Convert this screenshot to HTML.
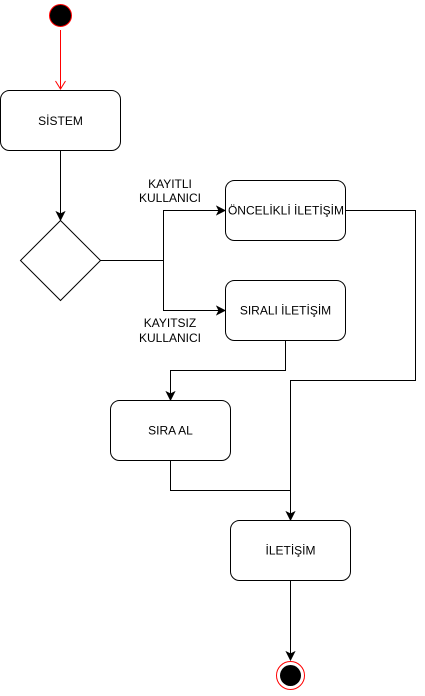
<!DOCTYPE html>
<html><head><meta charset="utf-8"><style>
html,body{margin:0;padding:0;background:#fff;}
svg text{font-family:"Liberation Sans",Arial,sans-serif;font-size:12px;fill:#000;}
</style></head><body>
<svg width="425" height="691" viewBox="0 0 425 691" xmlns="http://www.w3.org/2000/svg">
<defs>
<marker id="a" markerWidth="10" markerHeight="10" refX="8" refY="5" orient="auto" markerUnits="userSpaceOnUse">
<path d="M1,1 L9,5 L1,9 L3,5 Z" fill="#000" stroke="#000"/>
</marker>
<marker id="r" markerWidth="12" markerHeight="12" refX="10" refY="6" orient="auto" markerUnits="userSpaceOnUse">
<path d="M2,1 L10,6 L2,11" fill="none" stroke="#f00"/>
</marker>
</defs>
<circle cx="60.5" cy="15.5" r="11" fill="#000" stroke="#f00"/>
<line x1="60.5" y1="30" x2="60.5" y2="89" stroke="#f00" marker-end="url(#r)"/>
<rect x="0.5" y="90.5" width="120" height="60" rx="9" fill="#fff" stroke="#000"/>
<text x="60.5" y="125" text-anchor="middle">SİSTEM</text>
<line x1="60.5" y1="150.5" x2="60.5" y2="219" stroke="#000" marker-end="url(#a)"/>
<path d="M60.5,220.5 L100.5,260.5 L60.5,300.5 L20.5,260.5 Z" fill="#fff" stroke="#000"/>
<path d="M100.5,260.5 H163.5 V210.5 H224" fill="none" stroke="#000" marker-end="url(#a)"/>
<path d="M163.5,260.5 V310.5 H224" fill="none" stroke="#000" marker-end="url(#a)"/>
<text x="170" y="188" text-anchor="middle">KAYITLI</text>
<text x="170" y="202" text-anchor="middle">KULLANICI</text>
<text x="170" y="327" text-anchor="middle">KAYITSIZ</text>
<text x="170" y="342" text-anchor="middle">KULLANICI</text>
<rect x="225.5" y="180.5" width="120" height="60" rx="9" fill="#fff" stroke="#000"/>
<text x="286" y="214.5" text-anchor="middle">ÖNCELİKLİ İLETİŞİM</text>
<rect x="225.5" y="280.5" width="120" height="60" rx="9" fill="#fff" stroke="#000"/>
<text x="285.5" y="314.5" text-anchor="middle">SIRALI İLETİŞİM</text>
<path d="M345.5,210.5 H415.5 V380.5 H290.5 V519" fill="none" stroke="#000" marker-end="url(#a)"/>
<path d="M285.5,340.5 V370.5 H170.5 V399" fill="none" stroke="#000" marker-end="url(#a)"/>
<rect x="110.5" y="400.5" width="120" height="60" rx="9" fill="#fff" stroke="#000"/>
<text x="170.5" y="434.5" text-anchor="middle">SIRA AL</text>
<path d="M170.5,460.5 V490.5 H290.5" fill="none" stroke="#000"/>
<rect x="230.5" y="520.5" width="120" height="60" rx="9" fill="#fff" stroke="#000"/>
<text x="290.5" y="554.5" text-anchor="middle">İLETİŞİM</text>
<line x1="290.5" y1="580.5" x2="290.5" y2="659" stroke="#000" marker-end="url(#a)"/>
<circle cx="290.5" cy="675.5" r="14" fill="#fff" stroke="#f00"/>
<circle cx="290.5" cy="675.5" r="10.5" fill="#000"/>
</svg>
</body></html>
